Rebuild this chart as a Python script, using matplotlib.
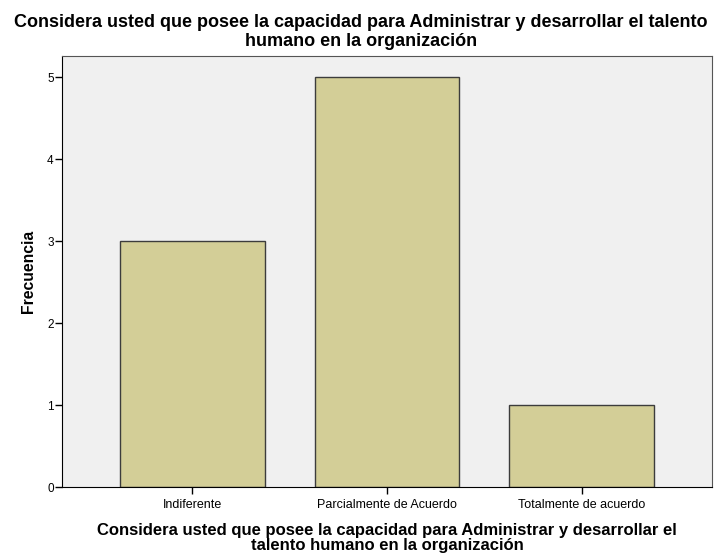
import matplotlib
matplotlib.use("Agg")
import matplotlib.pyplot as plt
import numpy as np

# Data
categories = ["Indiferente", "Parcialmente de Acuerdo", "Totalmente de acuerdo"]
counts = [3, 5, 1]
yticks = [0, 1, 2, 3, 4, 5]

title = ("Considera usted que posee la capacidad para Administrar y desarrollar el talento\n"
         "humano en la organización")
xlabel = ("Considera usted que posee la capacidad para Administrar y desarrollar el\n"
          "talento humano en la organización")

plt.rcParams['font.family'] = ['Liberation Sans', 'DejaVu Sans']

fig = plt.figure(figsize=(7.15, 5.54), dpi=100)
ax = fig.add_axes([62 / 715, 1 - 487 / 554, 650 / 715, 431 / 554])
ax.set_facecolor('#F0F0F0')

x = np.arange(len(categories))
ax.bar(x, counts, width=0.745, color='#D3CE97', edgecolor='#3C3C3C', linewidth=1.0, zorder=2)

ax.set_xlim(-0.67, 2.67)
ax.set_ylim(0, 5.26)
ax.set_yticks(yticks)
ax.set_xticks(x)
ax.set_xticklabels(categories, fontsize=9)
ax.tick_params(axis='y', labelsize=8.5, length=5, width=1, direction='out', pad=1)
ax.tick_params(axis='x', length=5, width=1, direction='out', pad=4)

for side in ['top', 'right']:
    ax.spines[side].set_color('#555555')
for side in ['left', 'bottom']:
    ax.spines[side].set_color('black')

ax.set_ylabel("Frecuencia", fontsize=11.3, fontweight='bold', labelpad=8)
ax.set_xlabel(xlabel, fontsize=12, fontweight='bold', labelpad=8, linespacing=1.0)

fig.text(0.505, 0.974, title, ha='center', va='top', fontsize=13, fontweight='bold',
         linespacing=1.1)

fig.savefig("out.png", dpi=100)
